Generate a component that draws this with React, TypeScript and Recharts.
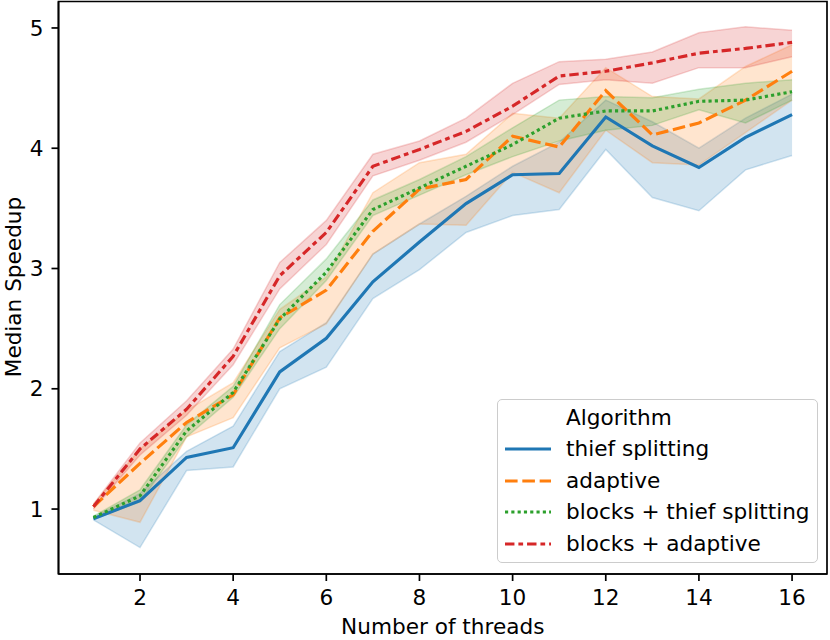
import React from 'react';
import {
  ComposedChart,
  Area,
  Line,
  XAxis,
  YAxis,
  Label,
  Legend,
  ReferenceArea,
} from 'recharts';

const threads = [1, 2, 3, 4, 5, 6, 7, 8, 9, 10, 11, 12, 13, 14, 15, 16];
const xTicks = [2, 4, 6, 8, 10, 12, 14, 16];
const yTicks = [1, 2, 3, 4, 5];

// thief splitting
const thiefMed = [0.92, 1.07, 1.43, 1.51, 2.14, 2.42, 2.89, 3.22, 3.54, 3.78, 3.79, 4.26, 4.02, 3.84, 4.09, 4.28];
const thiefLo = [0.91, 0.68, 1.32, 1.35, 2.00, 2.18, 2.75, 2.99, 3.30, 3.44, 3.49, 3.99, 3.59, 3.48, 3.82, 3.94];
const thiefHi = [0.93, 1.13, 1.48, 1.69, 2.31, 2.55, 3.12, 3.37, 3.60, 3.85, 4.05, 4.40, 4.22, 4.00, 4.25, 4.45];

// adaptive
const adaptMed = [1.02, 1.38, 1.72, 1.95, 2.59, 2.82, 3.31, 3.66, 3.74, 4.10, 4.01, 4.48, 4.11, 4.21, 4.40, 4.64];
const adaptLo = [0.99, 0.89, 1.60, 1.76, 2.34, 2.54, 3.12, 3.37, 3.36, 3.80, 3.63, 4.15, 3.88, 3.86, 4.13, 4.40];
const adaptHi = [1.04, 1.50, 1.82, 2.05, 2.66, 2.93, 3.63, 3.88, 3.95, 4.29, 4.25, 4.67, 4.43, 4.41, 4.68, 4.86];

// blocks + thief splitting
const blkThiefMed = [0.93, 1.11, 1.65, 1.97, 2.58, 2.97, 3.49, 3.67, 3.85, 4.03, 4.25, 4.31, 4.31, 4.39, 4.40, 4.47];
const blkThiefLo = [0.92, 1.06, 1.60, 1.93, 2.50, 2.90, 3.44, 3.61, 3.78, 3.93, 4.06, 4.15, 4.19, 4.32, 4.21, 4.40];
const blkThiefHi = [0.94, 1.16, 1.70, 2.02, 2.70, 3.08, 3.57, 3.74, 3.93, 4.17, 4.40, 4.43, 4.42, 4.49, 4.54, 4.57];

// blocks + adaptive
const blkAdaptMed = [1.02, 1.50, 1.83, 2.27, 2.94, 3.30, 3.85, 3.99, 4.14, 4.35, 4.60, 4.64, 4.71, 4.79, 4.83, 4.88];
const blkAdaptLo = [1.00, 1.45, 1.78, 2.20, 2.83, 3.20, 3.77, 3.90, 4.05, 4.28, 4.53, 4.57, 4.54, 4.67, 4.67, 4.76];
const blkAdaptHi = [1.04, 1.55, 1.90, 2.33, 3.05, 3.40, 3.95, 4.06, 4.25, 4.54, 4.72, 4.74, 4.80, 4.96, 5.01, 4.98];

const LW = 3.15;
const FS = 21.6;

const series = [
  { key: 'thief', name: 'thief splitting', color: '#1f77b4', dash: undefined, med: thiefMed, lo: thiefLo, hi: thiefHi },
  { key: 'adapt', name: 'adaptive', color: '#ff7f0e', dash: `${4 * LW} ${1.5 * LW}`, med: adaptMed, lo: adaptLo, hi: adaptHi },
  { key: 'blkThief', name: 'blocks + thief splitting', color: '#2ca02c', dash: `${LW} ${LW}`, med: blkThiefMed, lo: blkThiefLo, hi: blkThiefHi },
  { key: 'blkAdapt', name: 'blocks + adaptive', color: '#d62728', dash: `${3 * LW} ${1.25 * LW} ${1.5 * LW} ${1.25 * LW}`, med: blkAdaptMed, lo: blkAdaptLo, hi: blkAdaptHi },
];

const data = threads.map((n, i) => {
  const row: any = { n };
  series.forEach((s) => {
    row[s.key] = s.med[i];
    row[s.key + 'Band'] = [s.lo[i], s.hi[i]];
  });
  return row;
});

const font = 'DejaVu Sans';

const LegendBox = () => (
  <div
    style={{
      position: 'relative',
      width: 321,
      height: 164,
      boxSizing: 'border-box',
      border: '1.5px solid #cccccc',
      borderRadius: 5,
      background: 'rgba(255,255,255,0.8)',
      fontFamily: font,
      fontSize: FS,
      color: '#000',
    }}
  >
    <div style={{ position: 'absolute', left: 68, top: 3, height: 30, lineHeight: '30px' }}>Algorithm</div>
    {series.map((s, i) => (
      <div key={s.key} style={{ position: 'absolute', left: 0, top: 34 + i * 31.5, height: 30, width: 320 }}>
        <svg width={60} height={30} style={{ position: 'absolute', left: 6, top: 0 }}>
          <line x1={1} y1={15} x2={47} y2={15} stroke={s.color} strokeWidth={LW} strokeDasharray={s.dash} />
        </svg>
        <div style={{ position: 'absolute', left: 68, top: 0, lineHeight: '30px', whiteSpace: 'nowrap' }}>{s.name}</div>
      </div>
    ))}
  </div>
);

export default function App() {
  return (
    <div style={{ position: 'absolute', left: 0, top: 0, width: 830, height: 640, background: '#fff' }}>
      <ComposedChart width={830} height={640} data={data} margin={{ top: 1.5, right: 3, bottom: 0, left: 0 }}>
        <XAxis
          dataKey="n"
          type="number"
          domain={[0.25, 16.75]}
          ticks={xTicks}
          allowDataOverflow
          height={66}
          tickSize={7}
          tickMargin={9}
          stroke="#000"
          strokeWidth={1.7}
          tick={{ fill: '#000', fontSize: FS, fontFamily: font }}
        >
          <Label value="Number of threads" position="insideBottom" offset={6} fill="#000" fontSize={FS} fontFamily={font} />
        </XAxis>
        <YAxis
          type="number"
          domain={[0.46, 5.22]}
          ticks={yTicks}
          allowDataOverflow
          width={58.5}
          tickSize={7}
          tickMargin={8}
          stroke="#000"
          strokeWidth={1.7}
          tick={{ fill: '#000', fontSize: FS, fontFamily: font }}
        >
          <Label
            content={() => (
              <text x={20.5} y={287} transform="rotate(-90 20.5 287)" textAnchor="middle" fill="#000" fontSize={FS} fontFamily={font}>
                Median Speedup
              </text>
            )}
          />
        </YAxis>
        {series.map((s) => (
          <Area
            key={s.key + 'Band'}
            dataKey={s.key + 'Band'}
            type="linear"
            fill={s.color}
            fillOpacity={0.2}
            stroke={s.color}
            strokeOpacity={0.2}
            strokeWidth={1.5}
            dot={false}
            activeDot={false}
            isAnimationActive={false}
          />
        ))}
        {series.map((s) => (
          <Line
            key={s.key}
            dataKey={s.key}
            name={s.name}
            type="linear"
            stroke={s.color}
            strokeWidth={LW}
            strokeDasharray={s.dash}
            dot={false}
            activeDot={false}
            isAnimationActive={false}
          />
        ))}
        <ReferenceArea x1={0.25} x2={16.75} y1={0.46} y2={5.22} fill="none" stroke="#000" strokeWidth={1.7} ifOverflow="visible" />
        <Legend
          layout="vertical"
          align="center"
          verticalAlign="middle"
          content={() => <LegendBox />}
          wrapperStyle={{ left: 497, top: 399, width: 321, height: 164 }}
        />
      </ComposedChart>
    </div>
  );
}
